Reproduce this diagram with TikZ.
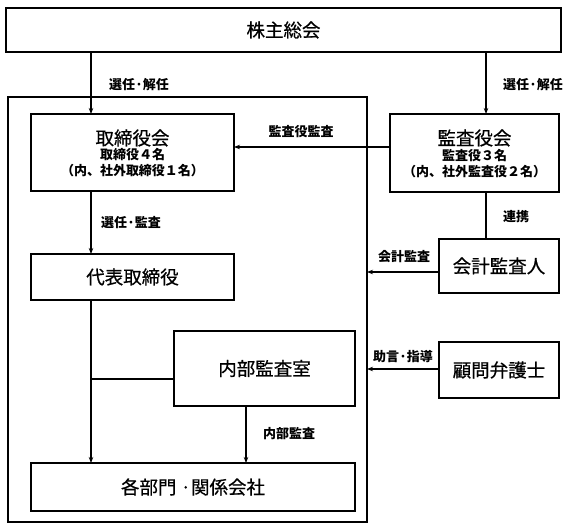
\documentclass[tikz,border=0pt]{standalone}
\usepackage{fontspec}
\setmainfont{Noto Sans CJK JP}
\newfontfamily\medfont{Noto Sans CJK JP}[FakeBold=0.6]
\usetikzlibrary{arrows.meta}
\begin{document}
\begin{tikzpicture}[x=1pt,y=-1pt,
  box/.style={draw, line width=1.1pt, inner sep=0pt, outer sep=0pt, rectangle, anchor=center},
  big/.style={font=\medfont\fontsize{18.5}{20}\selectfont},
  small/.style={font=\fontsize{13}{15}\selectfont\bfseries, inner sep=0pt},
  lbl/.style={font=\fontsize{13}{15}\selectfont\bfseries, inner sep=0pt},
  conn/.style={line width=1.1pt},
  arr/.style={conn, -{Stealth[length=6pt,width=4.5pt]}}]
\useasboundingbox (0,0) rectangle (571,529);

% helper coordinates
\coordinate (xL) at (91,0);
\coordinate (xR) at (486,0);
\coordinate (xN) at (246,0);
\coordinate (yA) at (0,147);
\coordinate (yK) at (0,272);
\coordinate (yM) at (0,369);
\coordinate (yH) at (0,379);

% boxes
\node[box, minimum width=555pt, minimum height=44pt, big] (sh) at (283.5,30) {株主総会};
\node[box, minimum width=359pt, minimum height=425pt] (outer) at (187.5,309.5) {};
\node[box, minimum width=203pt, minimum height=77pt] (tb) at (132.5,152.5) {};
\node[big, inner sep=0pt] (tbT) at (132.5,138) {取締役会};
\node[small] (tbS1) at (132.5,155) {取締役４名};
\node[small] (tbS2) at (132.5,171) {（内、社外取締役１名）};

\node[box, minimum width=169pt, minimum height=78pt] (ka) at (474.5,153) {};
\node[big, inner sep=0pt] (kaT) at (474.5,138) {監査役会};
\node[small] (kaS1) at (474.5,156) {監査役３名};
\node[small] (kaS2) at (474.5,172) {（内、社外監査役２名）};

\node[box, minimum width=203pt, minimum height=46pt, big] (dh) at (132.5,277) {代表取締役};
\node[box, minimum width=120pt, minimum height=54pt, big] (kk) at (499,266) {会計監査人};
\node[box, minimum width=181pt, minimum height=75pt, big] (nb) at (264.5,368.5) {内部監査室};
\node[box, minimum width=120pt, minimum height=56pt, big] (km) at (499,370) {顧問弁護士};
\node[box, minimum width=324pt, minimum height=48pt, big] (kb) at (193,487) {各部門 ·関係会社};

% labels
\node[lbl] (l1) at (139,85) {選任·解任};
\node[lbl] (l2) at (533,85) {選任·解任};
\node[lbl] (l3) at (301,132) {監査役監査};
\node[lbl] (l4) at (131,223) {選任·監査};
\node[lbl] (l5) at (516,217) {連携};
\node[lbl] (l6) at (404,257) {会計監査};
\node[lbl] (l7) at (403,357) {助言·指導};
\node[lbl] (l8) at (289,434) {内部監査};

% connectors
\draw[arr] (sh.south -| xL) -- (tb.north -| xL);
\draw[arr] (sh.south -| xR) -- (ka.north -| xR);
\draw[arr] (ka.west |- yA) -- (tb.east |- yA);
\draw[arr] (tb.south -| xL) -- (dh.north -| xL);
\draw[conn] (ka.south -| xR) -- (kk.north -| xR);
\draw[arr] (kk.west |- yK) -- (outer.east |- yK);
\draw[arr] (km.west |- yM) -- (outer.east |- yM);
\draw[arr] (dh.south -| xL) -- (kb.north -| xL);
\draw[conn] (nb.west |- yH) -- (xL |- yH);
\draw[arr] (nb.south -| xN) -- (kb.north -| xN);
\end{tikzpicture}
\end{document}
